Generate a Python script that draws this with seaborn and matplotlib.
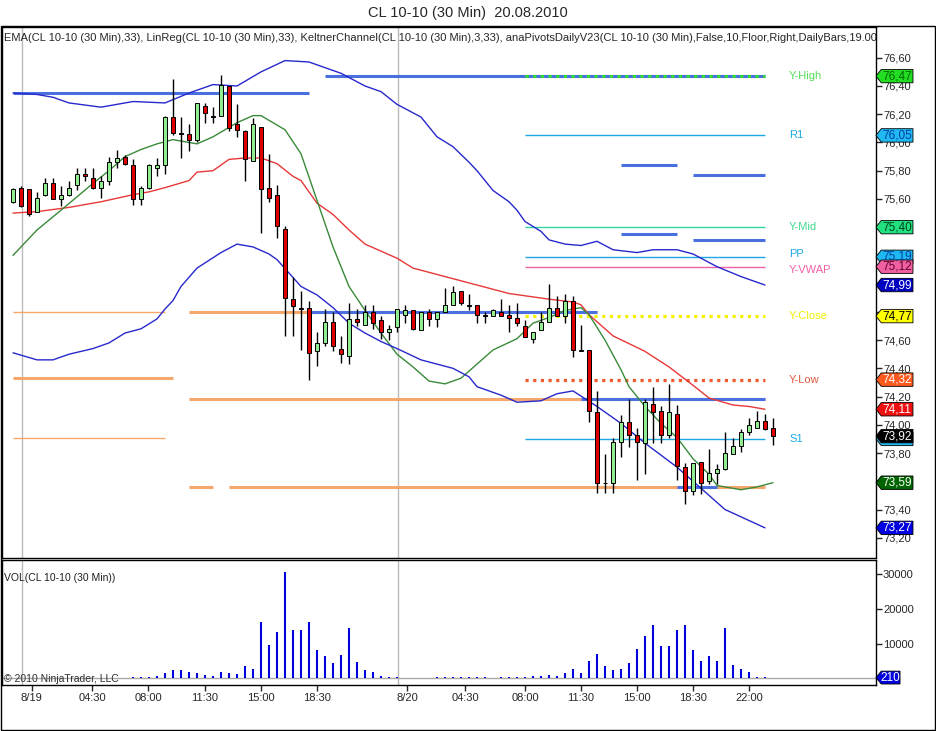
import numpy as np
import pandas as pd
import matplotlib.pyplot as plt
import matplotlib.transforms as mtransforms
from matplotlib.patches import Polygon, Rectangle
from matplotlib.ticker import FuncFormatter
import seaborn as sns

sns.set_style("white")
plt.rcParams["font.family"] = ["Liberation Sans", "DejaVu Sans"]

# 30 min bars, CL 10-10, bar index 0..95
opens = [75.58, 75.68, 75.67, 75.51, 75.63, 75.71, 75.60, 75.63, 75.70, 75.78,
         75.75, 75.68, 75.73, 75.86, 75.90, 75.84, 75.60, 75.68, 75.82, 75.84,
         76.18, 76.07, 76.06, 76.02, 76.26, 76.19, 76.19, 76.40, 76.13, 76.08,
         75.87, 76.11, 75.68, 75.63, 75.39, 74.89, 74.83, 74.83, 74.52, 74.58,
         74.73, 74.54, 74.49, 74.75, 74.71, 74.80, 74.74, 74.66, 74.69, 74.78,
         74.81, 74.67, 74.80, 74.75, 74.80, 74.85, 74.95, 74.85, 74.85, 74.78,
         74.77, 74.80, 74.78, 74.76, 74.70, 74.61, 74.67, 74.73, 74.83, 74.77,
         74.88, 74.52, 74.53, 74.09, 73.59, 73.59, 73.88, 74.02, 73.93, 73.87,
         74.15, 74.10, 73.93, 74.08, 73.70, 73.53, 73.74, 73.60, 73.66, 73.69,
         73.79, 73.85, 73.95, 73.98, 74.03, 73.98]
highs = [75.68, 75.69, 75.67, 75.65, 75.75, 75.75, 75.69, 75.73, 75.82, 75.82,
         75.82, 75.76, 75.90, 75.95, 75.91, 75.88, 75.69, 75.85, 75.89, 76.19,
         76.45, 76.18, 76.13, 76.28, 76.28, 76.25, 76.48, 76.40, 76.27, 76.09,
         76.17, 76.11, 75.92, 75.70, 75.41, 75.05, 74.95, 74.88, 74.66, 74.82,
         74.80, 74.63, 74.86, 74.82, 74.85, 74.85, 74.77, 74.71, 74.82, 74.85,
         74.81, 74.80, 74.82, 74.80, 74.97, 74.98, 74.95, 74.93, 74.85, 74.80,
         74.82, 74.89, 74.85, 74.86, 74.74, 74.66, 74.80, 75.00, 74.91, 74.93,
         74.91, 74.71, 74.53, 74.24, 73.79, 73.91, 74.07, 74.18, 73.98, 74.18,
         74.27, 74.13, 74.29, 74.14, 73.73, 73.73, 73.74, 73.83, 73.72, 73.95,
         73.91, 73.97, 74.05, 74.10, 74.08, 74.05]
lows = [75.57, 75.54, 75.48, 75.51, 75.62, 75.60, 75.55, 75.62, 75.66, 75.73,
        75.67, 75.61, 75.70, 75.82, 75.84, 75.56, 75.56, 75.67, 75.76, 75.78,
        76.05, 75.89, 75.94, 76.00, 76.14, 76.14, 76.19, 76.08, 76.04, 75.73,
        75.87, 75.36, 75.58, 75.32, 74.63, 74.63, 74.53, 74.32, 74.42, 74.56,
        74.52, 74.44, 74.43, 74.70, 74.71, 74.68, 74.61, 74.60, 74.66, 74.72,
        74.67, 74.67, 74.70, 74.69, 74.80, 74.85, 74.85, 74.81, 74.72, 74.72,
        74.77, 74.77, 74.66, 74.70, 74.62, 74.58, 74.67, 74.73, 74.77, 74.72,
        74.48, 74.52, 74.02, 73.52, 73.52, 73.52, 73.77, 73.84, 73.61, 73.65,
        73.87, 73.87, 73.91, 73.61, 73.44, 73.50, 73.51, 73.58, 73.58, 73.68,
        73.79, 73.81, 73.93, 73.98, 73.96, 73.86]
closes = [75.67, 75.55, 75.49, 75.61, 75.71, 75.60, 75.63, 75.68, 75.78, 75.76,
          75.68, 75.73, 75.86, 75.89, 75.85, 75.60, 75.68, 75.84, 75.84, 76.18,
          76.07, 76.06, 76.02, 76.28, 76.21, 76.18, 76.41, 76.10, 76.09, 75.88,
          76.13, 75.67, 75.61, 75.41, 74.90, 74.84, 74.82, 74.51, 74.58, 74.73,
          74.56, 74.50, 74.75, 74.73, 74.80, 74.72, 74.66, 74.68, 74.82, 74.81,
          74.68, 74.80, 74.75, 74.80, 74.85, 74.94, 74.86, 74.84, 74.78, 74.77,
          74.81, 74.77, 74.76, 74.72, 74.62, 74.66, 74.73, 74.83, 74.77, 74.88,
          74.53, 74.53, 74.10, 73.59, 73.59, 73.88, 74.02, 73.93, 73.88, 74.16,
          74.09, 73.93, 74.09, 73.71, 73.53, 73.73, 73.59, 73.66, 73.69, 73.80,
          73.85, 73.95, 74.00, 74.03, 73.97, 73.92]
volume = [0, 0, 0, 0, 0, 0, 0, 0, 0, 0,
          0, 0, 0, 0, 0, 500, 500, 500, 800, 1600,
          2400, 2400, 1900, 1600, 950, 800, 1900, 1600, 1200, 3500,
          2600, 16100, 9600, 13200, 30500, 13800, 13800, 16100, 8000, 6400,
          4300, 6700, 14400, 4600, 2500, 1700, 800, 500, 500, 0,
          0, 0, 0, 400, 400, 400, 400, 400, 400, 400,
          0, 300, 500, 300, 500, 750, 750, 1000, 750, 1400,
          2700, 1400, 5100, 7000, 3600, 2500, 2700, 4400, 8400, 12300,
          15400, 9400, 9400, 14000, 15400, 8000, 5100, 6500, 5100, 14400,
          3900, 2700, 1700, 500, 300, 210]

# indicators (bar index, value)
ema_bar = [0, 3, 7, 11, 15, 17, 19, 22, 23, 25, 27, 29, 31, 33, 35, 36, 38, 40, 42,
           44, 46, 48, 50, 54, 58, 62, 67, 70, 71, 72, 75, 79, 82, 85, 87, 90, 92, 94]
ema_val = [75.50, 75.51, 75.54, 75.58, 75.63, 75.65, 75.68, 75.73, 75.79, 75.80,
           75.88, 75.89, 75.89, 75.85, 75.76, 75.73, 75.57, 75.49, 75.38, 75.28,
           75.23, 75.18, 75.11, 75.05, 74.99, 74.93, 74.89, 74.87, 74.85, 74.78,
           74.63, 74.52, 74.41, 74.28, 74.19, 74.14, 74.13, 74.11]
lin_bar = [0, 3, 6, 10, 12, 14, 16, 18, 20, 23, 25, 28, 30, 31, 34, 36, 38, 40, 42,
           44, 46, 48, 50, 52, 54, 56, 58, 60, 63, 65, 67, 69, 71, 72, 74, 76, 77,
           79, 81, 83, 85, 87, 88, 91, 93, 95]
lin_val = [75.20, 75.38, 75.52, 75.71, 75.80, 75.90, 75.95, 75.99, 76.02, 75.99,
           76.04, 76.14, 76.19, 76.19, 76.09, 75.92, 75.59, 75.26, 74.98, 74.81,
           74.65, 74.50, 74.41, 74.31, 74.29, 74.33, 74.43, 74.53, 74.61, 74.72,
           74.76, 74.81, 74.83, 74.78, 74.60, 74.39, 74.27, 74.13, 74.01, 73.91,
           73.76, 73.65, 73.57, 73.54, 73.56, 73.59]
kup_bar = [0, 3, 5, 7, 11, 15, 19, 22, 25, 28, 31, 34, 37, 41, 44, 46, 48, 49, 51,
           53, 55, 57, 58, 60, 62, 63, 64, 66, 67, 69, 71, 73, 75, 78, 80, 83, 85,
           88, 91, 94]
kup_val = [76.35, 76.34, 76.32, 76.28, 76.25, 76.29, 76.28, 76.35, 76.41, 76.40,
           76.50, 76.58, 76.57, 76.49, 76.40, 76.36, 76.27, 76.24, 76.18, 76.04,
           75.97, 75.86, 75.80, 75.66, 75.58, 75.52, 75.44, 75.37, 75.31, 75.28,
           75.27, 75.30, 75.24, 75.22, 75.24, 75.24, 75.21, 75.12, 75.05, 74.99]
klo_bar = [0, 3, 5, 7, 10, 12, 14, 16, 18, 19, 20, 21, 23, 26, 28, 30, 32, 33, 36,
           38, 40, 42, 44, 46, 48, 51, 53, 55, 57, 58, 61, 63, 66, 68, 70, 73, 76,
           79, 83, 86, 89, 94]
klo_val = [74.51, 74.46, 74.46, 74.50, 74.54, 74.58, 74.65, 74.68, 74.75, 74.82,
           74.88, 74.98, 75.11, 75.22, 75.28, 75.26, 75.21, 75.17, 74.98, 74.92,
           74.83, 74.72, 74.65, 74.59, 74.54, 74.46, 74.43, 74.40, 74.34, 74.27,
           74.21, 74.16, 74.17, 74.22, 74.24, 74.13, 74.01, 73.87, 73.70, 73.55,
           73.40, 73.27]

# daily pivots (drawn over today's session)
piv_names = ["Y-High", "R1", "Y-Mid", "PP", "Y-VWAP", "Y-Close", "Y-Low", "S1"]
piv_vals = [76.47, 76.05, 75.40, 75.19, 75.12, 74.77, 74.32, 73.90]
piv_colors = ["#33DD33", "#1CA8E4", "#2FD7A0", "#1CA8E4", "#F060A8", "#F2F200", "#F25A2E", "#1CA8E4"]
piv_text_colors = ["#55DD55", "#1CA8E4", "#40D890", "#1CA8E4", "#F060A8", "#F0F000", "#E05A40", "#1CA8E4"]
piv_dotted = [True, False, False, False, False, True, True, False]
piv_start, piv_end = 64, 94

# other horizontal levels
lvl_vals = [76.35, 76.47, 75.84, 75.77, 75.35, 75.31, 74.80, 74.33, 73.91,
            74.80, 74.18, 73.56, 73.56, 74.80, 74.18, 73.56]
lvl_start = [0, 39, 76, 85, 76, 85, 0, 0, 0, 22, 22, 22, 27, 37, 71, 83]
lvl_end = [37, 94, 83, 94, 83, 94, 19, 20, 19, 73, 94, 25, 94, 73, 94, 88]
lvl_kind = ["b", "b", "b", "b", "b", "b", "o-thin", "o", "o-thin",
            "o", "o", "o", "o", "b", "b", "b"]

# right axis price tags (S1 tag sits under the last-price tag)
tag_vals = [76.47, 76.05, 75.40, 75.19, 75.12, 74.99, 74.77, 74.32, 74.11, 73.90, 73.92, 73.59, 73.27]
tag_fc = ["#22DD22", "#20B8F0", "#20E080", "#20B8F0", "#F060A0", "#0000C0", "#FFFF00",
          "#FF5A1E", "#EE1111", "#20B8F0", "#000000", "#006400", "#0000E0"]
tag_tc = ["#006600", "#0040A0", "#004020", "#0040A0", "#600030", "white", "black",
          "white", "white", None, "white", "white", "white"]

# price ticks whose labels are hidden behind tags
hidden_ticks = [75.40, 75.20, 75.00, 74.80, 73.60]

tick_pos = [2.33, 9.9, 16.9, 24, 31, 38, 49.25, 56.5, 64, 71, 78, 85, 92]
tick_lab = ["8/19", "04:30", "08:00", "11:30", "15:00", "18:30", "8/20",
            "04:30", "08:00", "11:30", "15:00", "18:30", "22:00"]
session_breaks = [1.125, 48.125]

header = ("EMA(CL 10-10 (30 Min),33), LinReg(CL 10-10 (30 Min),33), "
          "KeltnerChannel(CL 10-10 (30 Min),3,33), anaPivotsDailyV23(CL 10-10 (30 Min),"
          "False,10,Floor,Right,DailyBars,19.00)")

W, H = 936, 731


def box(x0, y0, x1, y1):
    return [x0 / W, 1 - y1 / H, (x1 - x0) / W, (y1 - y0) / H]


fig = plt.figure(figsize=(W / 100, H / 100), dpi=100)
ax = fig.add_axes(box(2, 26.7, 876, 557.5))
axv = fig.add_axes(box(2, 560, 876, 685), sharex=ax)

for a in (ax, axv):
    for s in a.spines.values():
        s.set_color("black")
        s.set_linewidth(1)
    for xb in session_breaks:
        a.axvline(xb, color="#BBBBBB", lw=1, zorder=1)

# levels
blue_lvl, orange_lvl = "#4A70E0", "#F6A76C"
for v, x0, x1, k in zip(lvl_vals, lvl_start, lvl_end, lvl_kind):
    col = blue_lvl if k == "b" else orange_lvl
    ax.hlines(v, x0, x1, colors=col, lw=1 if k == "o-thin" else 2.2, zorder=2)

for v, col, dot in zip(piv_vals, piv_colors, piv_dotted):
    if dot:
        ax.hlines(v, piv_start, piv_end, colors=col, lw=2.3, linestyles=(0, (1, 1.4)), zorder=2.2)
    else:
        ax.hlines(v, piv_start, piv_end, colors=col, lw=1, zorder=2.2)

for name, v, col in zip(piv_names, piv_vals, piv_text_colors):
    dy = 0.02 if name == "PP" else (-0.02 if name == "Y-VWAP" else 0)
    ax.text(97, v + dy, name, color=col, fontsize=8, va="center", ha="left")

# indicators
lines = pd.concat([
    pd.DataFrame({"bar": ema_bar, "val": ema_val, "ind": "EMA"}),
    pd.DataFrame({"bar": lin_bar, "val": lin_val, "ind": "LinReg"}),
    pd.DataFrame({"bar": kup_bar, "val": kup_val, "ind": "KUp"}),
    pd.DataFrame({"bar": klo_bar, "val": klo_val, "ind": "KLo"}),
])
sns.lineplot(data=lines, x="bar", y="val", hue="ind", units="ind", estimator=None,
             palette={"EMA": "#E83838", "LinReg": "#3A8A3A", "KUp": "#2828CC", "KLo": "#2828CC"},
             lw=1, legend=False, ax=ax, zorder=3)

# candles
idx = np.arange(len(opens))
o, h, l, c = (np.array(v) for v in (opens, highs, lows, closes))
ax.vlines(idx, l, h, color="black", lw=1, zorder=4)
body_col = np.where(c > o, "#90EE90", np.where(c < o, "#DD0000", "black"))
ax.bar(idx, c - o, bottom=o, width=0.56, color=body_col, edgecolor="black",
       linewidth=0.7, zorder=5)

# volume
axv.axhline(volume[-1], color="#AAAAAA", lw=1, zorder=1)
axv.vlines(idx, 0, volume, color="#0000DD", lw=1.5, zorder=3)

ax.set_xlim(-1.375, 107.875)
ax.set_ylim(73.06, 76.82)
axv.set_ylim(-1925, 34000)
ax.set_xlabel("")
ax.set_ylabel("")


def price_fmt(v, _):
    if any(abs(v - t) < 1e-6 for t in hidden_ticks):
        return ""
    return f"{v:.2f}".replace(".", ",")


ax.yaxis.tick_right()
ax.set_yticks(np.arange(73.2, 76.61, 0.2))
ax.yaxis.set_major_formatter(FuncFormatter(price_fmt))
ax.tick_params(axis="y", right=True, left=False, direction="out", length=4, width=1,
               labelsize=8, pad=1)
ax.tick_params(axis="x", bottom=False, labelbottom=False)

axv.yaxis.tick_right()
axv.set_yticks([10000, 20000, 30000])
axv.set_yticklabels(["10000", "20000", "30000"])
axv.tick_params(axis="y", right=True, left=False, direction="out", length=4, width=1,
                labelsize=8, pad=1)
axv.set_xticks(tick_pos)
axv.set_xticklabels(tick_lab)
axv.tick_params(axis="x", bottom=True, direction="out", length=4, width=1, labelsize=8, pad=2)


def tag(axis, value, text, fc, tc, hh, w):
    tr = mtransforms.blended_transform_factory(axis.transAxes, axis.transData)
    d = 0.006
    pts = [(1.0, value), (1.0 + d, value + hh / 2), (1.0 + w, value + hh / 2),
           (1.0 + w, value - hh / 2), (1.0 + d, value - hh / 2)]
    axis.add_patch(Polygon(pts, closed=True, transform=tr, fc=fc, ec="black", lw=0.6,
                           clip_on=False, zorder=10))
    if tc is not None:
        axis.text(1.0 + d + (w - d) / 2, value, text, transform=tr, color=tc, fontsize=8.5,
                  ha="center", va="center", clip_on=False, zorder=11)


for v, fc, tc in zip(tag_vals, tag_fc, tag_tc):
    tag(ax, v, f"{v:.2f}".replace(".", ","), fc, tc, 0.095, 0.0423)
tag(axv, volume[-1], str(volume[-1]), "#0000E0", "white", 3700, 0.0275)

ax.text(0.002, 0.9787, header, transform=ax.transAxes, fontsize=8.0, va="center",
        ha="left", clip_on=True)
axv.text(0.002, 0.856, "VOL(CL 10-10 (30 Min))", transform=axv.transAxes, fontsize=7.5,
         va="center", ha="left", color="#202020")
axv.text(0.002, 0.05, "© 2010 NinjaTrader, LLC", transform=axv.transAxes, fontsize=7.5,
         va="center", ha="left", color="#303030")

fig.text(0.5, 1 - 13 / H, "CL 10-10 (30 Min)  20.08.2010", ha="center", va="center",
         fontsize=10.5)
fig.add_artist(Rectangle((1 / W, 1 - 730 / H), 934 / W, 704 / H, transform=fig.transFigure,
                         fill=False, ec="black", lw=1))

fig.savefig("out.png", dpi=100)
